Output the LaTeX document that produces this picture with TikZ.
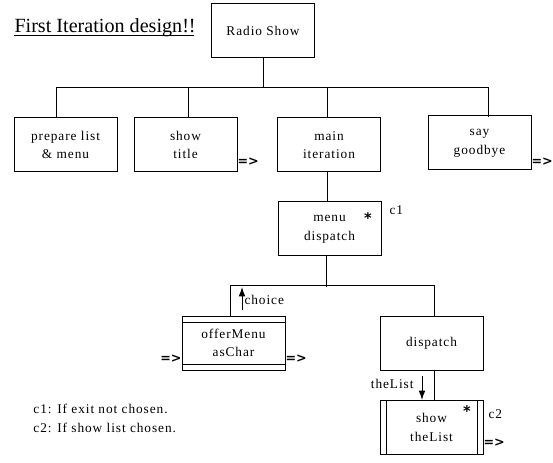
\documentclass[tikz,border=0pt]{standalone}
\usepackage{fontspec}
\setmainfont{Liberation Serif}
\newfontfamily\boxfont[LetterSpace=7]{Liberation Serif}
\newfontfamily\markfont{DejaVu Sans}
\usepackage{tikz}
\usetikzlibrary{arrows.meta}
\newcommand\goon{{\markfont\bfseries =>}}
\begin{document}
\begin{tikzpicture}[x=0.75pt,y=-0.75pt,line width=0.75pt,
    box/.style={draw,shape=rectangle,minimum width=77.25pt,minimum height=40.5pt,
        inner sep=0pt,align=center,font=\boxfont\fontsize{10}{14}\selectfont},
    libbox/.style={box,path picture={%
        \draw ([yshift=-4.5pt]path picture bounding box.north west)--([yshift=-4.5pt]path picture bounding box.north east);
        \draw ([yshift=4.5pt]path picture bounding box.south west)--([yshift=4.5pt]path picture bounding box.south east);}},
    modbox/.style={box,path picture={%
        \draw ([xshift=4.5pt]path picture bounding box.north west)--([xshift=4.5pt]path picture bounding box.south west);
        \draw ([xshift=-4.5pt]path picture bounding box.north east)--([xshift=-4.5pt]path picture bounding box.south east);}},
    note/.style={inner sep=0pt,font=\boxfont\fontsize{10}{12}\selectfont},
    flow/.style={inner sep=0pt,font=\fontsize{9.5}{9.5}\selectfont},
    starmark/.style={inner sep=0pt,font=\markfont\bfseries\fontsize{11}{11}\selectfont},
    couple/.style={-{Latex[length=7pt,width=5pt]}}]%
        \useasboundingbox (0,0) rectangle (553,463);%%
        \node[anchor=base west,inner sep=0pt,font=\fontsize{15.1}{17}\selectfont] (title) at (14,33) {First Iteration design!!}; %%
        \coordinate (ul0) at (14,35.5); %%
        \coordinate (ul1) at (194,35.5); %%
        \draw (ul0)--(ul1); %%
        \node[box] (radio) at (263,31)  {Radio Show}; %%
        \node[box] (prep) at (65.5,145)  {prepare list\\\& menu}; %%
        \node[box] (stitle) at (185.5,145)  {show\\title}; %%
        \node[box] (main) at (329,145)  {main\\iteration}; %%
        \node[box] (bye) at (479.5,143)  {say\\goodbye}; %%
        \node[box] (menu) at (329.5,229)  {menu\\dispatch}; %%
        \node[libbox] (offer) at (233.5,343)  {offerMenu\\asChar}; %%
        \node[box] (disp) at (431.5,343)  {dispatch}; %%
        \node[modbox] (showl) at (431.5,427.5)  {show\\theList}; %%
        % iteration and condition marks
        \node[starmark] (star1) at (368,218) {*}; %%
        \node[starmark] (star2) at (467,411) {*}; %%
        \node[note,anchor=west] (c1) at (389,210) {c1}; %%
        \node[note,anchor=west] (c2) at (488,414) {c2}; %%
        % flow marks
        \node[flow,anchor=west] (go1) at (237,162) {\goon}; %%
        \node[flow,anchor=west] (go2) at (531,162) {\goon}; %%
        \node[flow,anchor=east] (go3) at (182,359) {\goon}; %%
        \node[flow,anchor=west] (go4) at (285,359) {\goon}; %%
        \node[flow,anchor=west] (go5) at (483,443) {\goon}; %%
        % data couples
        \coordinate (ch0) at (242,310); %%
        \coordinate (ch1) at (242,287); %%
        \coordinate (tl0) at (422,376); %%
        \coordinate (tl1) at (422,400); %%
        \node[note,anchor=west] (chlab) at (244,300) {choice}; %%
        \node[note,anchor=east] (tllab) at (414,384) {theList}; %%
        \draw[couple] (ch0)--(ch1); %%
        \draw[couple] (tl0)--(tl1); %%
        % notes
        \node[note,anchor=west] (n1) at (33,409) {c1: If exit not chosen.}; %%
        \node[note,anchor=west] (n2) at (33,428) {c2: If show list chosen.}; %%
        % tree lines
        \draw (radio.south)--++(0,30); %%
        \draw ([xshift=-6.4pt]prep.north)--++(0,-30)-|([xshift=6.4pt]bye.north |- prep.north); %%
        \draw ([xshift=2.6pt]stitle.north)--++(0,-30); %%
        \draw ([xshift=-1.5pt]main.north)--++(0,-30); %%
        \draw ([xshift=-1.5pt]main.south)--([xshift=-1.5pt]main.south |- menu.north); %%
        \draw ([xshift=-2.6pt]menu.south)--++(0,30); %%
        \draw ([xshift=-2.6pt]offer.north)--++(0,-30)-|([xshift=1.9pt]disp.north); %%
        \draw ([xshift=1.9pt]disp.south)--([xshift=1.9pt]showl.north); %%
\end{tikzpicture}
\end{document}
